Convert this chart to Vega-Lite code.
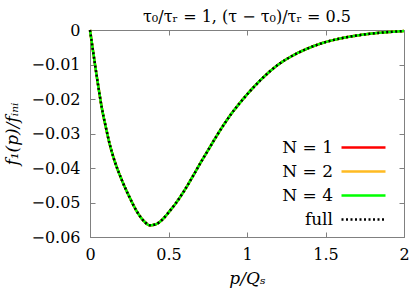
{
  "$schema": "https://vega.github.io/schema/vega-lite/v6.json",
  "autosize": "none",
  "padding": {"left": 90, "top": 30, "right": 5, "bottom": 55},
  "width": 314,
  "height": 207,
  "background": "white",
  "config": {
    "view": {"stroke": "#808080", "strokeWidth": 1},
    "font": "DejaVu Serif",
    "axis": {
      "domainColor": "#808080",
      "tickColor": "#808080",
      "tickSize": -5,
      "grid": false,
      "labelColor": "black",
      "titleFontWeight": "normal",
      "titleColor": "black"
    }
  },
  "title": {
    "text": "τ₀/τᵣ = 1,  (τ − τ₀)/τᵣ = 0.5",
    "font": "DejaVu Serif",
    "fontSize": 16,
    "fontWeight": "normal",
    "anchor": "middle",
    "offset": -3,
    "color": "black"
  },
  "data": {
    "values": [
      {"p": 0.0, "f": 0.0},
      {"p": 0.02, "f": -0.0063},
      {"p": 0.05, "f": -0.0155},
      {"p": 0.075, "f": -0.0225},
      {"p": 0.1, "f": -0.0280},
      {"p": 0.125, "f": -0.0330},
      {"p": 0.15, "f": -0.0370},
      {"p": 0.2, "f": -0.0432},
      {"p": 0.25, "f": -0.0483},
      {"p": 0.3, "f": -0.0527},
      {"p": 0.35, "f": -0.0557},
      {"p": 0.38, "f": -0.0566},
      {"p": 0.42, "f": -0.0563},
      {"p": 0.46, "f": -0.0550},
      {"p": 0.5, "f": -0.0529},
      {"p": 0.55, "f": -0.0500},
      {"p": 0.6, "f": -0.0466},
      {"p": 0.65, "f": -0.0428},
      {"p": 0.7, "f": -0.0388},
      {"p": 0.75, "f": -0.0350},
      {"p": 0.8, "f": -0.0312},
      {"p": 0.85, "f": -0.0276},
      {"p": 0.9, "f": -0.0243},
      {"p": 0.95, "f": -0.0214},
      {"p": 1.0, "f": -0.0187},
      {"p": 1.1, "f": -0.0139},
      {"p": 1.2, "f": -0.0100},
      {"p": 1.3, "f": -0.0072},
      {"p": 1.4, "f": -0.0051},
      {"p": 1.5, "f": -0.0035},
      {"p": 1.6, "f": -0.0024},
      {"p": 1.7, "f": -0.0016},
      {"p": 1.8, "f": -0.0010},
      {"p": 1.9, "f": -0.0006},
      {"p": 2.0, "f": -0.0003}
    ]
  },
  "encoding": {
    "x": {"field": "p", "type": "quantitative", "scale": {"domain": [0, 2], "nice": false, "zero": false}},
    "y": {"field": "f", "type": "quantitative", "scale": {"domain": [-0.06, 0], "nice": false}}
  },
  "layer": [
    {
      "mark": {"type": "line", "strokeWidth": 2.5, "interpolate": "monotone"},
      "encoding": {
        "x": {"field": "p", "type": "quantitative", "axis": {"orient": "bottom", "values": [0, 0.5, 1, 1.5, 2], "format": "~g", "labelFlush": false, "labelPadding": 14, "labelFont": "DejaVu Serif", "labelFontSize": 16, "title": "p/Qₛ", "titleFont": "DejaVu Serif", "titleFontSize": 17, "titleFontStyle": "italic", "titlePadding": 8}},
        "y": {"field": "f", "type": "quantitative", "axis": {"orient": "left", "values": [0, -0.01, -0.02, -0.03, -0.04, -0.05, -0.06], "format": "~g", "labelFlush": false, "labelPadding": 15, "labelFont": "DejaVu Serif", "labelFontSize": 16, "title": "f₁(p)/fᵢₙᵢ", "titleFont": "DejaVu Serif", "titleFontSize": 17, "titleFontStyle": "italic", "titlePadding": 9}},
        "color": {"datum": "N = 1"},
        "strokeDash": {"datum": "N = 1"}
      }
    },
    {
      "mark": {"type": "line", "strokeWidth": 2.5, "interpolate": "monotone"},
      "encoding": {
        "x": {"field": "p", "type": "quantitative", "axis": null},
        "y": {"field": "f", "type": "quantitative", "axis": null},
        "color": {"datum": "N = 2"},
        "strokeDash": {"datum": "N = 2"}
      }
    },
    {
      "mark": {"type": "line", "strokeWidth": 2.5, "interpolate": "monotone"},
      "encoding": {
        "x": {"field": "p", "type": "quantitative", "axis": null},
        "y": {"field": "f", "type": "quantitative", "axis": null},
        "color": {"datum": "N = 4"},
        "strokeDash": {"datum": "N = 4"}
      }
    },
    {
      "mark": {"type": "line", "strokeWidth": 2.5, "interpolate": "monotone"},
      "encoding": {
        "x": {"field": "p", "type": "quantitative", "axis": {"orient": "top", "values": [0, 0.5, 1, 1.5, 2], "labels": false, "title": null, "domain": false}},
        "y": {"field": "f", "type": "quantitative", "axis": {"orient": "right", "values": [0, -0.01, -0.02, -0.03, -0.04, -0.05, -0.06], "labels": false, "title": null, "domain": false}},
        "color": {
          "datum": "full",
          "scale": {"domain": ["N = 1", "N = 2", "N = 4", "full"], "range": ["#ff0000", "#ffbb22", "#00ff00", "#000000"]},
          "legend": {
            "title": null,
            "orient": "none",
            "legendX": 262,
            "legendY": 106,
            "symbolType": "M-2.2,0H2.2",
            "symbolSize": 400,
            "symbolStrokeWidth": 2.5,
            "symbolFillColor": "transparent",
            "labelAlign": "right",
            "labelOffset": -42,
            "labelFont": "DejaVu Serif",
            "labelFontSize": 17,
            "labelColor": "black",
            "rowPadding": 4
          }
        },
        "strokeDash": {
          "datum": "full",
          "scale": {"domain": ["N = 1", "N = 2", "N = 4", "full"], "range": [[1, 0], [1, 0], [1, 0], [2, 2.5]]}
        }
      }
    }
  ],
  "resolve": {"axis": {"x": "independent", "y": "independent"}}
}
